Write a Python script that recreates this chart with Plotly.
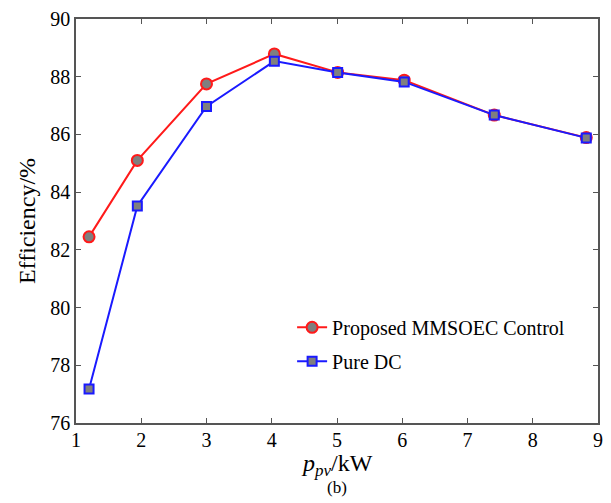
import plotly.graph_objects as go

p_pv = [1.2, 1.94, 3.0, 4.04, 5.01, 6.03, 7.41, 8.82]
eff_proposed = [82.45, 85.10, 87.75, 88.79, 88.15, 87.88, 86.67, 85.89]
eff_pure_dc = [77.18, 83.52, 86.97, 88.54, 88.15, 87.82, 86.67, 85.88]
names = ["Proposed MMSOEC Control", "Pure DC"]

FONT = "Times New Roman"

fig = go.Figure()
fig.add_trace(go.Scatter(
    x=p_pv, y=eff_proposed, name=names[0], mode="lines+markers",
    legendgroup="a",
    line=dict(color="#ff1a1a", width=2),
    marker=dict(symbol="circle", size=11, color="#7f7f7f",
                line=dict(color="#ff1a1a", width=2)),
))
fig.add_trace(go.Scatter(
    x=p_pv, y=eff_pure_dc, name=names[1], mode="lines+markers",
    legendgroup="b",
    line=dict(color="#1a1aff", width=2),
    marker=dict(symbol="square", size=9, color="#7f7f7f",
                line=dict(color="#1a1aff", width=2)),
))

axis_common = dict(
    showline=True, linecolor="#555555", linewidth=1.5, mirror="ticks",
    ticks="inside", ticklen=5, tickcolor="#555555", tickwidth=1,
    showgrid=False, zeroline=False,
    tickfont=dict(family=FONT, size=20, color="black"),
)

fig.update_layout(
    width=611, height=503,
    margin=dict(l=76, r=8, t=11, b=80),
    paper_bgcolor="white", plot_bgcolor="white",
    font=dict(family=FONT, color="black"),
    xaxis=dict(range=[1, 9], dtick=1, ticklabelstandoff=-2, **axis_common),
    yaxis=dict(range=[76, 90], dtick=2, **axis_common,
               title=dict(text="Efficiency/%",
                          font=dict(family=FONT, size=24), standoff=8)),
    legend=dict(x=0.414, y=0.285, xanchor="left", yanchor="top",
                bgcolor="rgba(0,0,0,0)", borderwidth=0,
                font=dict(family=FONT, size=20), tracegroupgap=5),
    showlegend=True,
)

fig.add_annotation(
    text="<i>p</i><sub><i><span style='font-size:17px'>pv</span></i></sub>/kW",
    xref="paper", yref="paper", x=0.5, y=-0.104,
    xanchor="center", yanchor="middle", showarrow=False,
    font=dict(family=FONT, size=24, color="black"))

fig.add_annotation(text="(b)", xref="paper", yref="paper", x=0.5, y=-0.16,
                   xanchor="center", yanchor="middle", showarrow=False,
                   font=dict(family=FONT, size=17, color="black"))

fig.write_html("out.html")
